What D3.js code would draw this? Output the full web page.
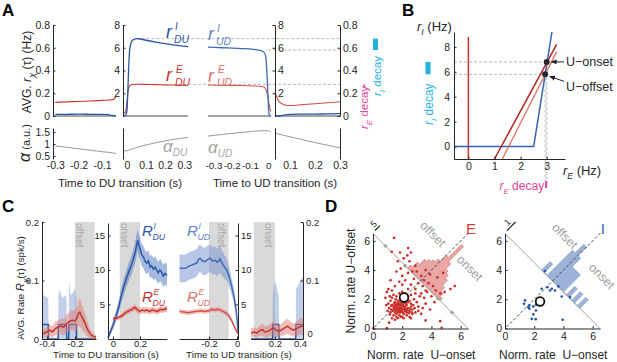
<!DOCTYPE html>
<html>
<head>
<meta charset="utf-8">
<script src="https://cdn.jsdelivr.net/npm/d3@7"></script>
<style>
  body { margin: 0; background: #fff; }
  svg { font-family: "Liberation Sans", Arial, Helvetica, sans-serif; }
</style>
</head>
<body>
<svg id="fig" width="617" height="362"></svg>
<script>
// ---------------- data: panel A (model rates around transitions) ----------------
const duPreT  = [-0.3, -0.25, -0.2, -0.15, -0.1, -0.07, -0.06, -0.05, -0.045, -0.04];
const duPreE  = [0.12, 0.124, 0.128, 0.132, 0.137, 0.14, 0.142, 0.148, 0.16, 0.17];
const duPreI  = [0.014, 0.015, 0.016, 0.015, 0.014, 0.012, 0.006, 0.003, 0.001, 0.0];

const duPostT = [-0.02, -0.01, -0.005, 0, 0.005, 0.01, 0.015, 0.02, 0.03, 0.05, 0.07, 0.1, 0.15, 0.2, 0.25, 0.3, 0.32];
const duPostI = [0.0, 0.02, 0.1, 0.4, 2.0, 4.4, 5.8, 6.3, 6.65, 6.8, 6.77, 6.66, 6.5, 6.36, 6.24, 6.14, 6.1];
const duPostE = [0.25, 0.3, 0.45, 1.1, 2.0, 2.5, 2.65, 2.72, 2.77, 2.79, 2.79, 2.78, 2.76, 2.74, 2.72, 2.71, 2.7];

const udPreT  = [-0.33, -0.25, -0.15, -0.08, -0.04, -0.025, -0.015, -0.01, -0.005, 0, 0.004, 0.01, 0.015];
const udPreI  = [6.05, 6.0, 5.93, 5.85, 5.75, 5.62, 5.3, 4.5, 3.0, 1.2, 0.2, 0.02, 0.0];
const udPreE  = [2.72, 2.7, 2.68, 2.64, 2.6, 2.55, 2.4, 2.2, 1.9, 1.5, 1.1, 0.6, 0.4];

const udPostT = [0.04, 0.045, 0.05, 0.06, 0.07, 0.08, 0.1, 0.15, 0.2, 0.25, 0.3];
const udPostE = [0.21, 0.18, 0.15, 0.12, 0.105, 0.097, 0.092, 0.1, 0.108, 0.117, 0.125];
const udPostI = [0.0, 0.0, 0.0, 0.0, 0.004, 0.01, 0.014, 0.016, 0.017, 0.018, 0.02];

const adDuPreT  = [-0.3, -0.25, -0.2, -0.15, -0.1, -0.05, -0.04];
const adDuPre   = [0.92, 0.86, 0.8, 0.74, 0.68, 0.62, 0.6];
const adDuPostT = [-0.02, -0.005, 0, 0.05, 0.1, 0.15, 0.2, 0.25, 0.32];
const adDuPost  = [0.74, 0.71, 0.72, 0.85, 0.96, 1.05, 1.13, 1.2, 1.27];
const adUdPreT  = [-0.33, -0.25, -0.15, -0.08, -0.02, 0, 0.015];
const adUdPre   = [1.33, 1.4, 1.48, 1.53, 1.56, 1.55, 1.5];
const adUdPostT = [0.04, 0.1, 0.15, 0.2, 0.25, 0.3];
const adUdPost  = [1.45, 1.3, 1.18, 1.06, 0.95, 0.84];

const rateTicksLow  = [0, 0.2, 0.4, 0.6, 0.8];
const rateTicksHigh = [2, 4, 6, 8];
const adaptTicks    = [0.5, 1, 1.5];
const peakLevels    = [6.8, 5.8, 2.78];   // r_I onset, r_I offset, r_E

// ---------------- data: panel B (phase plane) ----------------
const excNull    = [[0, -1], [0, 8.8]];
const inhNull    = [[-0.55, 0], [2.5, 0], [3.2, 9.2]];
const excOnset   = [[1.0, -1], [3.38, 8.2]];
const excOffset  = [[1.3, -1], [3.38, 7.6]];
const fixedPts   = [{name: "U\u2212onset", rE: 3.0, rI: 6.8}, {name: "U\u2212offset", rE: 2.94, rI: 5.8}];
const bTicksX = [0, 1, 2, 3];
const bTicksY = [0, 2, 4, 6, 8];

// ---------------- data: panel C (recorded rates, [t, mean, sem]) ----------------
const cDuPreI = [[-0.435,0.025,0.075],[-0.425,0.025,0.05],[-0.39,0.025,0.045],[-0.388,0,0],[-0.32,0,0],
  [-0.318,0.025,0.05],[-0.31,0.025,0.06],[-0.29,0.025,0.045],[-0.27,0.025,0.05],[-0.26,0.025,0.045],
  [-0.258,0,0],[-0.245,0,0],[-0.243,0.025,0.075],[-0.23,0.025,0.05],[-0.2,0.025,0.06],[-0.19,0.025,0.045],
  [-0.188,0,0],[-0.05,0,0]];
const cDuPreE = [[-0.435,0.008,0.006],[-0.42,0.01,0.007],[-0.4,0.012,0.008],[-0.38,0.015,0.01],[-0.36,0.012,0.01],
  [-0.34,0.018,0.012],[-0.32,0.02,0.012],[-0.3,0.022,0.013],[-0.28,0.02,0.014],[-0.26,0.026,0.015],
  [-0.24,0.03,0.016],[-0.22,0.032,0.017],[-0.2,0.031,0.018],[-0.185,0.036,0.02],[-0.175,0.044,0.022],
  [-0.165,0.046,0.024],[-0.155,0.04,0.022],[-0.14,0.033,0.02],[-0.125,0.025,0.016],[-0.11,0.016,0.012],
  [-0.095,0.01,0.008],[-0.08,0.006,0.006],[-0.065,0.004,0.004],[-0.05,0.003,0.003]];
const cDuPostI = [[-0.037,0.2,0.2],[-0.02,1.0,0.4],[0,2.0,0.6],[0.02,3.2,0.8],[0.037,4.2,0.9],[0.05,5.3,1.0],
  [0.063,6.4,1.1],[0.08,7.6,1.2],[0.1,8.8,1.2],[0.12,9.9,1.3],[0.137,10.7,1.4],[0.15,11.6,1.4],[0.163,12.4,1.5],
  [0.175,13.6,1.6],[0.183,14.3,1.6],[0.192,13.5,1.6],[0.2,13.2,1.6],[0.212,12.2,1.6],[0.225,11.9,1.6],
  [0.238,11.2,1.6],[0.25,11.0,1.6],[0.262,11.3,1.6],[0.275,10.4,1.6],[0.286,10.6,1.6],[0.3,10.1,1.6],
  [0.312,10.4,1.6],[0.323,10.0,1.6],[0.335,9.6,1.6],[0.348,10.0,1.6],[0.36,9.7,1.6],[0.372,9.1,1.6],
  [0.385,9.5,1.6],[0.4,9.2,1.6]];
const cDuPostE = [[0,2.9,0.3],[0.015,3.0,0.3],[0.03,3.0,0.3],[0.05,3.2,0.35],[0.07,3.4,0.35],[0.085,3.7,0.4],
  [0.1,3.9,0.4],[0.12,4.1,0.4],[0.14,4.3,0.4],[0.163,4.6,0.45],[0.175,4.3,0.45],[0.19,4.1,0.45],[0.2,4.0,0.45],
  [0.215,4.2,0.45],[0.23,4.1,0.45],[0.25,4.2,0.45],[0.27,4.0,0.45],[0.29,4.2,0.45],[0.31,4.1,0.45],
  [0.33,4.0,0.45],[0.35,4.3,0.45],[0.37,4.2,0.45],[0.39,4.4,0.45],[0.4,4.3,0.45]];
const cUdPreI = [[-0.41,10.3,2.0],[-0.39,10.2,2.0],[-0.36,10.3,2.0],[-0.34,10.6,2.0],[-0.323,10.7,2.0],
  [-0.3,10.9,2.0],[-0.288,11.0,2.0],[-0.275,11.5,2.0],[-0.264,11.7,2.0],[-0.245,11.3,2.0],[-0.228,11.2,2.0],
  [-0.21,11.5,2.0],[-0.193,11.7,2.0],[-0.175,11.3,2.0],[-0.157,11.4,2.0],[-0.14,11.1,2.0],[-0.121,11.6,2.0],
  [-0.11,11.1,1.9],[-0.098,10.7,1.8],[-0.085,10.3,1.7],[-0.073,10.0,1.6],[-0.06,9.3,1.5],[-0.05,8.6,1.4],
  [-0.038,7.6,1.2],[-0.026,6.6,1.0],[-0.015,5.3,0.8],[-0.005,3.9,0.6],[0.002,2.5,0.4],[0.007,1.0,0.3]];
const cUdPreE = [[-0.41,4.0,0.35],[-0.38,3.9,0.35],[-0.35,3.8,0.35],[-0.32,3.9,0.35],[-0.29,4.0,0.35],
  [-0.26,4.1,0.35],[-0.23,4.0,0.35],[-0.2,4.1,0.35],[-0.18,4.3,0.35],[-0.16,4.2,0.35],[-0.14,4.3,0.35],
  [-0.12,4.2,0.35],[-0.1,4.0,0.35],[-0.08,3.8,0.35],[-0.06,3.4,0.35],[-0.045,2.9,0.3],[-0.03,2.3,0.3],
  [-0.015,1.6,0.25],[0,1.0,0.2],[0.007,0.8,0.2]];
const cUdPostE = [[0.03,0.01,0.008],[0.05,0.012,0.008],[0.07,0.01,0.008],[0.09,0.014,0.009],[0.11,0.016,0.01],
  [0.13,0.012,0.01],[0.15,0.013,0.01],[0.17,0.016,0.01],[0.19,0.019,0.012],[0.21,0.015,0.011],[0.23,0.013,0.01],
  [0.25,0.016,0.011],[0.27,0.019,0.012],[0.29,0.022,0.013],[0.31,0.018,0.012],[0.33,0.015,0.011],
  [0.35,0.017,0.012],[0.37,0.02,0.013],[0.39,0.022,0.014],[0.4,0.021,0.014]];
const cUdPostI = [[0.03,0,0],[0.183,0,0],[0.185,0.025,0.05],[0.2,0.025,0.075],[0.228,0.025,0.05],[0.23,0,0],
  [0.348,0,0],[0.35,0.025,0.06],[0.38,0.025,0.075],[0.4,0.025,0.08]];
const offsetBand = [-0.2, -0.06];
const onsetBand  = [0.05, 0.2];

// ---------------- data: panel D (normalized rates, onset vs offset) ----------------
const scatterE = [[1.2,1.1],[1.4,0.9],[1.5,1.3],[1.6,1.0],[1.7,1.4],[1.8,1.2],[1.9,1.6],[2.0,1.3],[2.1,1.0],[2.2,1.5],
  [1.3,1.6],[1.5,1.8],[1.6,1.5],[1.7,1.9],[1.8,1.7],[1.9,2.0],[2.0,1.8],[2.1,2.2],[2.2,1.9],[2.3,1.6],
  [1.1,1.4],[1.2,1.9],[1.3,2.1],[1.4,1.5],[1.5,1.1],[1.6,0.8],[1.7,1.1],[1.8,0.9],[1.9,1.3],[2.0,0.8],
  [2.1,1.4],[2.2,1.2],[2.3,1.1],[2.4,1.4],[2.5,1.2],[2.6,1.5],[2.4,1.8],[2.5,1.9],[2.6,1.7],[2.7,1.3],
  [1.0,1.2],[1.05,1.7],[1.15,2.2],[1.25,1.3],[1.35,1.2],[1.45,1.7],[1.55,2.0],[1.65,1.7],[1.75,1.6],[1.85,1.45],
  [1.95,1.15],[2.05,1.55],[2.15,1.75],[2.25,1.35],[2.35,1.25],[2.45,1.05],[2.55,1.35],[2.65,1.1],[2.75,1.6],[2.85,1.4],
  [1.4,2.3],[1.6,2.2],[1.8,2.4],[2.0,2.5],[2.2,2.4],[2.4,2.2],[2.6,2.3],[2.8,2.0],[3.0,1.8],[3.1,1.5],
  [1.3,0.7],[1.5,0.6],[1.7,0.7],[1.9,0.8],[2.1,0.7],[2.3,0.9],[2.5,0.8],[2.7,1.0],[2.9,1.1],[3.1,1.2],
  [1.25,1.55],[1.45,1.35],[1.55,1.6],[1.65,1.25],[1.75,1.85],[1.85,1.1],[1.95,1.75],[2.05,1.1],[2.15,1.3],[2.25,1.7],
  [1.62,1.42],[1.72,1.28],[1.82,1.55],[1.92,1.42],[1.68,1.62],[1.78,1.38],[1.88,1.25],[1.58,1.22],[2.02,1.62],[1.52,1.48],
  [0.9,1.6],[0.85,2.1],[0.95,2.5],[1.05,2.7],[1.3,2.6],[1.15,0.95],[2.9,2.4],[3.2,2.2],[3.3,1.0],[2.6,0.7],
  [1.44,6.2],[1.28,5.25],[1.85,5.2],[2.4,5.5],[2.35,5.0],[2.6,5.2],[2.1,4.8],[1.7,4.6],[2.5,4.6],[2.9,4.3],
  [2.2,4.3],[1.9,4.1],[2.7,3.9],[3.0,3.9],[2.4,3.8],[1.6,3.9],[2.0,3.6],[3.3,3.6],[2.8,3.4],[2.2,3.3],
  [1.8,3.2],[3.1,3.1],[2.6,3.0],[2.0,3.0],[1.5,2.9],[3.4,2.9],[2.4,2.7],[2.9,2.7],[1.2,3.3],[3.6,2.6],
  [3.5,3.3],[3.8,3.1],[4.1,2.9],[3.7,2.5],[4.3,2.6],[4.0,2.2],[3.5,2.1],[4.6,2.4],[4.9,2.5],[5.3,2.7],
  [4.4,3.5],[4.8,3.8],[3.6,4.0],[3.9,3.7],[3.3,2.4],[3.6,1.7],[4.2,1.8],[3.9,1.3],[3.4,1.4],[5.6,2.9],
  [0.02,0.02],[0.95,0.02],[4.7,0.05],[4.6,0.5],[3.6,0.55],[1.1,0.4]];
const scatterI = [[2.74,3.93],[2.9,2.83],[3.2,2.72],[3.42,2.6],[3.65,2.88],[3.88,2.19],[4.45,2.15],[1.37,1.92],
  [1.3,1.69],[1.67,1.58],[1.67,1.35],[1.94,1.51],[2.12,1.64],[2.12,1.23],[1.83,0.66],[2.1,0.64],[3.95,0.6],
  [1.94,0.96],[2.51,2.72],[3.08,2.6],[1.6,1.46]];
const meanE = [2.12, 2.12];
const meanI = [2.4, 1.85];
// histograms of (onset - offset), drawn on the anti-diagonal
const histEcenters = [-1.65, -1.35, -1.05, -0.75, -0.45, -0.15, 0.15, 0.45, 0.75, 1.05, 1.35, 1.65, 1.95, 2.25, 2.55];
const histEcounts  = [3, 8, 13, 15, 17, 20, 26, 39, 24, 19, 17, 14, 9, 5, 2];
const histIcenters = [-1.3125, -0.9375, -0.5625, -0.1875, 0.1875, 0.5625, 0.9375, 1.3125, 1.6875, 2.0625, 2.4375, 2.8125, 3.1875, 3.5625];
const histIcounts  = [1, 0, 3, 4, 3, 2, 2, 2, 0, 1, 0, 1, 0, 1];
const markE = [-4.8, -2.1, 2.4, 4.3];
const dTicks = [0, 2, 4, 6];

// ---------------- drawing ----------------
const svg = d3.select("#fig");
const FONT = "'Liberation Sans', Arial, Helvetica, sans-serif";
const INK = "#262626";
const BLUE = "#2b56a6", BLUE_UD = "#3f68b5", RED = "#c7352e", RED_UD = "#d2524a";
const BLUE_LBL_UD = "#5f84c6", RED_LBL_UD = "#dc6f68";
const CYAN = "#22b3dd", MAGENTA = "#e4439b", GRAYTXT = "#a0a0a0", DASH = "#b8b8b8";

svg.append("rect").attr("width", 617).attr("height", 362).attr("fill", "#fff");

svg.append("defs").append("marker").attr("id", "arr")
  .attr("viewBox", "0 0 10 10").attr("refX", 9).attr("refY", 5)
  .attr("markerWidth", 6).attr("markerHeight", 6).attr("orient", "auto")
  .append("path").attr("d", "M0,1L10,5L0,9z").attr("fill", "#222");

function text(g, x, y, s, size, o = {}) {
  const t = g.append("text").attr("font-size", size).attr("fill", o.fill || INK).text(s);
  if (o.rotate !== undefined) t.attr("transform", `translate(${x},${y}) rotate(${o.rotate})`);
  else t.attr("x", x).attr("y", y);
  if (o.anchor) t.attr("text-anchor", o.anchor);
  if (o.italic) t.attr("font-style", "italic");
  if (o.bold) t.attr("font-weight", "bold");
  if (o.dy) t.attr("dy", o.dy);
  return t;
}
// text made of parts, some of them subscripts
function rich(g, x, y, parts, o = {}) {
  const t = g.append("text").attr("fill", o.fill || INK);
  if (o.rotate !== undefined) t.attr("transform", `translate(${x},${y}) rotate(${o.rotate})`);
  else t.attr("x", x).attr("y", y);
  if (o.anchor) t.attr("text-anchor", o.anchor);
  let shift = 0;
  parts.forEach(p => {
    const s = p.sub ? p.size * 0.45 : 0;
    const sp = t.append("tspan").text(p.t).attr("font-size", p.size).attr("dy", s - shift);
    if (p.italic) sp.attr("font-style", "italic");
    shift = s;
  });
  return t;
}
// r^I_DU style label
function rateLabel(g, x, y, base, sup, sub, color, size, gap) {
  text(g, x, y, base, size, {fill: color, italic: true});
  text(g, x + gap, y - size * 0.46, sup, size * 0.56, {fill: color, italic: true});
  text(g, x + gap - 1, y + size * 0.27, sub, size * 0.58, {fill: color, italic: true});
}
function yAxis(g, scale, x, side, ticks, size, labels = true) {
  const ax = (side === "left" ? d3.axisLeft(scale) : d3.axisRight(scale))
    .tickValues(ticks).tickSize(-2.5).tickSizeOuter(0).tickPadding(3)
    .tickFormat(labels ? String : () => "");
  return g.append("g").attr("transform", `translate(${x},0)`).call(ax)
    .attr("font-size", size).attr("font-family", FONT).attr("color", INK);
}
function xAxis(g, scale, y, ticks, size, pad = 3) {
  const ax = d3.axisBottom(scale).tickValues(ticks).tickSize(-2.5).tickSizeOuter(0)
    .tickPadding(pad).tickFormat(String);
  return g.append("g").attr("transform", `translate(0,${y})`).call(ax)
    .attr("font-size", size).attr("font-family", FONT).attr("color", INK);
}
function xLabels(g, scale, y, ticks, size) {
  const a = xAxis(g, scale, y, ticks, size, 0);
  a.select(".domain").remove();
  a.selectAll(".tick line").remove();
}
function curve(g, xs, ys, t, v, color, w) {
  g.append("path").datum(d3.zip(t, v)).attr("fill", "none").attr("stroke", color)
    .attr("stroke-width", w).attr("stroke-linejoin", "round")
    .attr("d", d3.line().x(d => xs(d[0])).y(d => ys(d[1])).curve(d3.curveMonotoneX));
}
function baseline(g, xs, ys) {
  g.append("line").attr("x1", xs.range()[0]).attr("x2", xs.range()[1])
    .attr("y1", ys(0)).attr("y2", ys(0)).attr("stroke", "#333").attr("stroke-width", 0.9);
}

// ===== Panel A =====
const gA = svg.append("g");
const xA1 = d3.scaleLinear().domain([-0.31, -0.04]).range([53, 116]);
const xA2 = d3.scaleLinear().domain([-0.02, 0.32]).range([123, 188]);
const xA3 = d3.scaleLinear().domain([-0.33, 0.015]).range([208, 271]);
const xA4 = d3.scaleLinear().domain([0.04, 0.3]).range([275, 340]);
const yLow  = d3.scaleLinear().domain([0, 0.8]).range([116, 25]);
const yHigh = d3.scaleLinear().domain([0, 8]).range([116, 25]);
const yAd   = d3.scaleLinear().domain([0.375, 1.667]).range([159, 128]);

// dashed reference levels
const dashFrom = [xA2(0.05), xA3(0.0), xA2(0.32)];
peakLevels.forEach((v, i) => {
  gA.append("line").attr("x1", dashFrom[i]).attr("x2", xA4(0.3))
    .attr("y1", yHigh(v)).attr("y2", yHigh(v))
    .attr("stroke", DASH).attr("stroke-width", 1).attr("stroke-dasharray", "3,2");
});

[[xA1, yLow], [xA2, yHigh], [xA3, yHigh], [xA4, yLow]].forEach(([xs, ys]) => baseline(gA, xs, ys));

curve(gA, xA1, yLow, duPreT, duPreE, RED, 1.1);
curve(gA, xA1, yLow, duPreT, duPreI, BLUE, 1.3);
curve(gA, xA2, yHigh, duPostT, duPostE, RED, 1.1);
curve(gA, xA2, yHigh, duPostT, duPostI, BLUE, 1.3);
curve(gA, xA3, yHigh, udPreT, udPreE, RED_UD, 1.1);
curve(gA, xA3, yHigh, udPreT, udPreI, BLUE_UD, 1.3);
curve(gA, xA4, yLow, udPostT, udPostE, RED_UD, 1.1);
curve(gA, xA4, yLow, udPostT, udPostI, BLUE, 1.3);

curve(gA, xA1, yAd, adDuPreT, adDuPre, "#9a9a9a", 1);
curve(gA, xA2, yAd, adDuPostT, adDuPost, "#9a9a9a", 1);
curve(gA, xA3, yAd, adUdPreT, adUdPre, "#9a9a9a", 1);
curve(gA, xA4, yAd, adUdPostT, adUdPost, "#9a9a9a", 1);

yAxis(gA, yLow, 53, "left", rateTicksLow, 10.5);
yAxis(gA, yHigh, 123, "left", rateTicksHigh, 10.5);
yAxis(gA, yHigh, 275, "right", rateTicksHigh, 10.5);
yAxis(gA, yLow, 340, "right", rateTicksLow, 10.5);
yAxis(gA, yAd, 53, "left", adaptTicks, 10.5);
yAxis(gA, yAd, 123, "left", [], 10.5, false);
yAxis(gA, yAd, 275, "left", [], 10.5, false);
yAxis(gA, yAd, 340, "right", [], 10.5, false);

xLabels(gA, xA1, 162, [-0.3, -0.2, -0.1], 10.5);
xLabels(gA, xA2, 162, [0, 0.1, 0.2, 0.3], 10.5);
xLabels(gA, xA3, 162, [-0.3, -0.2, -0.1, 0], 9.8);
xLabels(gA, xA4, 162, [0.1, 0.2, 0.3], 10.5);

text(gA, 120, 187, "Time to DU transition (s)", 11.5, {anchor: "middle"});
text(gA, 275, 187, "Time to UD transition (s)", 11.5, {anchor: "middle"});

rich(gA, 31, 72, [{t: "AVG. ", size: 12}, {t: "r", size: 13, italic: true}, {t: "\u03c7", size: 9, sub: true, italic: true},
  {t: " (\u03c4)  (Hz)", size: 12}], {rotate: -90, anchor: "middle"});
rich(gA, 30, 143, [{t: "\u03b1", size: 16, italic: true}, {t: " (a.u.)", size: 11}], {rotate: -90, anchor: "middle"});

rateLabel(gA, 166, 38, "r", "I", "DU", BLUE, 18, 9);
rateLabel(gA, 166, 81, "r", "E", "DU", RED, 18, 10);
rateLabel(gA, 208, 40, "r", "I", "UD", BLUE_LBL_UD, 18, 9);
rateLabel(gA, 208, 81.5, "r", "E", "UD", RED_LBL_UD, 18, 10);
rich(gA, 163, 151.5, [{t: "\u03b1", size: 17, italic: true}, {t: "DU", size: 10, sub: true, italic: true}], {fill: "#a3a3a3"});
rich(gA, 208, 152.5, [{t: "\u03b1", size: 17, italic: true}, {t: "UD", size: 10, sub: true, italic: true}], {fill: "#a3a3a3"});

// decay markers
gA.append("rect").attr("x", 373).attr("width", 5).attr("y", yHigh(peakLevels[0]))
  .attr("height", yHigh(peakLevels[1]) - yHigh(peakLevels[0])).attr("fill", CYAN);
gA.append("rect").attr("x", 363.5).attr("width", 1.6).attr("y", yHigh(peakLevels[2]))
  .attr("height", yHigh(2.5) - yHigh(peakLevels[2])).attr("fill", MAGENTA);
rich(gA, 381, 96, [{t: "r", size: 11.5, italic: true}, {t: "I", size: 8, sub: true, italic: true}, {t: " decay", size: 11.5}],
  {rotate: -90, fill: CYAN});
rich(gA, 368, 129, [{t: "r", size: 11.5, italic: true}, {t: "E", size: 8, sub: true, italic: true}, {t: " decay", size: 11.5}],
  {rotate: -90, fill: MAGENTA});

text(svg, 2, 16, "A", 17, {bold: true, fill: "#000"});

// ===== Panel B =====
const gB = svg.append("g");
const xB = d3.scaleLinear().domain([-0.55, 3.7]).range([454, 565]);
const yB = d3.scaleLinear().domain([-1, 9.2]).range([159, 32]);
const lineB = d3.line().x(d => xB(d[0])).y(d => yB(d[1]));

fixedPts.forEach(p => {
  gB.append("line").attr("x1", xB(-0.55)).attr("x2", xB(p.rE)).attr("y1", yB(p.rI)).attr("y2", yB(p.rI))
    .attr("stroke", DASH).attr("stroke-dasharray", "3,2");
  gB.append("line").attr("x1", xB(p.rE)).attr("x2", xB(p.rE)).attr("y1", yB(p.rI)).attr("y2", yB(-3.2))
    .attr("stroke", DASH).attr("stroke-dasharray", "3,2");
});
gB.append("path").attr("d", lineB(excNull)).attr("stroke", "#d4322a").attr("stroke-width", 1.5).attr("fill", "none");
gB.append("path").attr("d", lineB(inhNull)).attr("stroke", "#2f62b3").attr("stroke-width", 1.5).attr("fill", "none");
gB.append("path").attr("d", lineB(excOffset)).attr("stroke", "#e0776e").attr("stroke-width", 1.4).attr("fill", "none");
gB.append("path").attr("d", lineB(excOnset)).attr("stroke", "#b3251f").attr("stroke-width", 1.5).attr("fill", "none");

xAxis(gB, xB, 159, bTicksX, 10.5, 4);
yAxis(gB, yB, 454, "left", bTicksY, 10.5).call(a => a.selectAll(".tick text").attr("x", -4));

gB.selectAll(".fp").data(fixedPts).enter().append("circle")
  .attr("cx", d => xB(d.rE)).attr("cy", d => yB(d.rI)).attr("r", 3).attr("fill", "#262626");
// arrows to fixed points
const arrowFrom = [[564, 0], [564, 7]];
fixedPts.forEach((p, i) => {
  gB.append("line").attr("x1", arrowFrom[i][0]).attr("y1", yB(p.rI) + arrowFrom[i][1])
    .attr("x2", xB(p.rE) + 4.5).attr("y2", yB(p.rI) + (i ? 2 : 0))
    .attr("stroke", "#222").attr("stroke-width", 1).attr("marker-end", "url(#arr)");
  text(gB, 566, yB(p.rI) + (i ? 16.5 : 4.5), p.name, 12.5);
});

rich(gB, 417, 31, [{t: "r", size: 13, italic: true}, {t: "I", size: 8.5, sub: true, italic: true}, {t: " (Hz)", size: 13}]);
rich(gB, 563, 175, [{t: "r", size: 13, italic: true}, {t: "E", size: 8.5, sub: true, italic: true}, {t: " (Hz)", size: 13}]);

gB.append("rect").attr("x", 425.5).attr("width", 5).attr("y", yB(fixedPts[0].rI))
  .attr("height", yB(fixedPts[1].rI) - yB(fixedPts[0].rI)).attr("fill", CYAN);
rich(gB, 433, 125, [{t: "r", size: 12, italic: true}, {t: "I", size: 8, sub: true, italic: true}, {t: " decay", size: 12}],
  {rotate: -90, fill: CYAN});
gB.append("rect").attr("x", xB(fixedPts[1].rE)).attr("width", Math.max(2, xB(fixedPts[0].rE) - xB(fixedPts[1].rE)))
  .attr("y", 181).attr("height", 7).attr("fill", MAGENTA);
rich(gB, xB(fixedPts[1].rE) - 1, 190, [{t: "r", size: 12, italic: true}, {t: "E", size: 8, sub: true, italic: true}, {t: " decay", size: 12}],
  {anchor: "end", fill: MAGENTA});

text(svg, 402, 16, "B", 17, {bold: true, fill: "#000"});

// ===== Panel C =====
const gC = svg.append("g");
const xC1 = d3.scaleLinear().domain([-0.435, -0.05]).range([42, 96]);
const xC2 = d3.scaleLinear().domain([-0.037, 0.4]).range([108, 167]);
const xC3 = d3.scaleLinear().domain([-0.414, 0.007]).range([179, 238]);
const xC4 = d3.scaleLinear().domain([0.03, 0.4]).range([251, 303]);
const yCl = d3.scaleLinear().domain([0, 0.2]).range([339, 222]);
const yCh = d3.scaleLinear().domain([0, 16.8]).range([339, 223]);

function band(xs, b, label, tx) {
  gC.append("rect").attr("x", xs(b[0])).attr("width", xs(b[1]) - xs(b[0]))
    .attr("y", 222).attr("height", 117).attr("fill", "#d9d9d9");
  text(gC, xs(b[0]) + tx, 223, label, 10, {rotate: 90, fill: "#a9a9a9"});
}
band(xC1, offsetBand, "offset", 1);
band(xC2, onsetBand, "onset", 1.5);
band(xC3, offsetBand, "offset", 9);
band(xC4, onsetBand, "onset", 11);

function trace(xs, ys, data, color, fill, op) {
  gC.append("path").datum(data).attr("fill", fill).attr("opacity", op)
    .attr("d", d3.area().x(d => xs(d[0])).y0(d => ys(Math.max(0, d[1] - d[2]))).y1(d => ys(d[1] + d[2])));
  gC.append("path").datum(data).attr("fill", "none").attr("stroke", color).attr("stroke-width", 1.5)
    .attr("d", d3.line().x(d => xs(d[0])).y(d => ys(d[1])));
}
trace(xC1, yCl, cDuPreI, BLUE, "#6d8cc8", 0.42);
trace(xC1, yCl, cDuPreE, RED, "#e07b74", 0.5);
trace(xC2, yCh, cDuPostI, BLUE, "#5a7fc2", 0.55);
trace(xC2, yCh, cDuPostE, RED, "#e07b74", 0.55);
trace(xC3, yCh, cUdPreI, BLUE_UD, "#6f8fcb", 0.5);
trace(xC3, yCh, cUdPreE, RED_UD, "#e58c85", 0.5);
trace(xC4, yCl, cUdPostI, BLUE, "#6d8cc8", 0.42);
trace(xC4, yCl, cUdPostE, RED, "#e07b74", 0.5);

yAxis(gC, yCl, 42, "left", [0, 0.1, 0.2], 9.5);
yAxis(gC, yCh, 108, "left", [5, 10, 15], 9.5);
yAxis(gC, yCh, 238, "right", [5, 10, 15], 9.5);
yAxis(gC, yCl, 303, "right", [0, 0.1, 0.2], 9.5)
  .call(a => a.selectAll(".tick text").filter(d => d === 0).attr("dy", "-0.25em").attr("x", 4.5));
xAxis(gC, xC1, 339, [-0.4, -0.2], 9.5, 1.5);
xAxis(gC, xC2, 339, [0, 0.2], 9.5, 1.5);
xAxis(gC, xC3, 339, [-0.2, 0], 9.5, 1.5);
xAxis(gC, xC4, 339, [0.2, 0.4], 9.5, 1.5)
  .call(a => a.selectAll(".tick text").filter(d => d === 0.4).attr("x", -3));

text(gC, 106, 357.5, "Time to DU transition (s)", 9.8, {anchor: "middle"});
text(gC, 239, 357.5, "Time to UD transition (s)", 9.8, {anchor: "middle"});
rich(gC, 24, 288, [{t: "AVG. Rate ", size: 9.8}, {t: "R", size: 11, italic: true}, {t: "\u03c7", size: 8, sub: true, italic: true},
  {t: "(\u03c4)  (spk/s)", size: 9.8}], {rotate: -90, anchor: "middle"});

rateLabel(gC, 142, 236, "R", "I", "DU", BLUE, 15, 11.5);
rateLabel(gC, 142, 302, "R", "E", "DU", RED, 15, 11.5);
rateLabel(gC, 187, 236, "R", "I", "UD", BLUE_LBL_UD, 15, 11.5);
rateLabel(gC, 187, 302, "R", "E", "UD", RED_LBL_UD, 15, 11.5);

text(svg, 2, 212, "C", 17, {bold: true, fill: "#000"});

// ===== Panel D =====
const gD = svg.append("g");
const yD = d3.scaleLinear().domain([0, 6.5]).range([328.5, 233.5]);
const xD1 = d3.scaleLinear().domain([0, 6.5]).range([373, 468]);
const xD2 = d3.scaleLinear().domain([0, 6.5]).range([505, 600]);

function antiHist(xs, centers, counts, width, pxPerCount, fill, stroke) {
  const base = d => [xs((6.5 + d) / 2), yD((6.5 - d) / 2)];
  const n = [Math.SQRT1_2, -Math.SQRT1_2];
  const pts = [base(centers[0] - width / 2)];
  centers.forEach((c, i) => {
    const h = counts[i] * pxPerCount;
    const p0 = base(c - width / 2), p1 = base(c + width / 2);
    pts.push([p0[0] + n[0] * h, p0[1] + n[1] * h], [p1[0] + n[0] * h, p1[1] + n[1] * h]);
  });
  pts.push(base(centers[centers.length - 1] + width / 2));
  gD.append("path").attr("d", d3.line()(pts) + "Z").attr("fill", fill)
    .attr("stroke", stroke).attr("stroke-width", 0.7);
  return base;
}
function scaleBar(xs, count, pxPerCount, label) {
  const a = [xs(0) + 2, yD(6.5) - 3];
  const L = count * pxPerCount;
  const b = [a[0] + L * Math.SQRT1_2, a[1] - L * Math.SQRT1_2];
  gD.append("line").attr("x1", a[0]).attr("y1", a[1]).attr("x2", b[0]).attr("y2", b[1])
    .attr("stroke", "#222").attr("stroke-width", 1.2);
  const m = [(a[0] + b[0]) / 2 - 4, (a[1] + b[1]) / 2 - 4];
  text(gD, m[0], m[1], label, 9, {rotate: -45, anchor: "middle", dy: "0.35em"});
}
function scatterPanel(xs, pts, color, hist, pxc, hfill, hstroke, mean, tag, tagColor) {
  const base = antiHist(xs, hist[0], hist[1], hist[2], pxc, hfill, hstroke);
  gD.append("line").attr("x1", xs(0)).attr("y1", yD(6.5)).attr("x2", xs(6.5)).attr("y2", yD(0))
    .attr("stroke", "#a0a0a0").attr("stroke-width", 1);
  gD.append("line").attr("x1", xs(0.1)).attr("y1", yD(0.1)).attr("x2", xs(6.6)).attr("y2", yD(6.6))
    .attr("stroke", "#333").attr("stroke-width", 0.9).attr("stroke-dasharray", "3,2");
  gD.selectAll(null).data(pts).enter().append("circle")
    .attr("cx", d => xs(d[0])).attr("cy", d => yD(d[1])).attr("r", 1.35).attr("fill", color);
  gD.append("circle").attr("cx", xs(mean[0])).attr("cy", yD(mean[1])).attr("r", 4.3)
    .attr("fill", "#fff").attr("stroke", "#111").attr("stroke-width", 1.8);
  yAxis(gD, yD, xs(0), "left", dTicks, 10.5);
  xAxis(gD, xs, yD(0), dTicks, 10.5, 4);
  text(gD, xs(3.3), 359, "Norm. rate\u00a0\u00a0U\u2212onset", 12, {anchor: "middle"});
  text(gD, xs(6.7), 234, tag, 15, {fill: tagColor, anchor: "middle"});
  return base;
}
const baseE = scatterPanel(xD1, scatterE, "#c9302b", [histEcenters, histEcounts, 0.3], 1.4, "#e9a6a3", "#cf7a76", meanE, "E", "#d23a33");
gD.selectAll(null).data(markE).enter().append("path")
  .attr("transform", d => `translate(${baseE(d)[0]},${baseE(d)[1]}) rotate(45)`)
  .attr("d", "M-1.6,-1.6H1.6V1.6H-1.6Z").attr("fill", "#a8a8a8");
scatterPanel(xD2, scatterI, "#2b56a6", [histIcenters, histIcounts, 0.375], 12, "#9db2d9", "#8aa0c8", meanI, "I", "#2f5fb0");
scaleBar(xD1, 5, 1.4, "5");
scaleBar(xD2, 1, 12, "1");

text(gD, 355, 281, "Norm. rate U\u2212offset", 12, {rotate: -90, anchor: "middle"});
text(gD, 433, 234, "offset", 12.5, {rotate: 45, anchor: "middle", dy: "0.35em", fill: GRAYTXT});
text(gD, 470, 268, "onset", 12.5, {rotate: 45, anchor: "middle", dy: "0.35em", fill: GRAYTXT});
text(gD, 565, 236, "offset", 12.5, {rotate: 45, anchor: "middle", dy: "0.35em", fill: GRAYTXT});
text(gD, 602, 276, "onset", 12.5, {rotate: 45, anchor: "middle", dy: "0.35em", fill: GRAYTXT});

text(svg, 325, 212, "D", 17, {bold: true, fill: "#000"});
</script>
</body>
</html>
